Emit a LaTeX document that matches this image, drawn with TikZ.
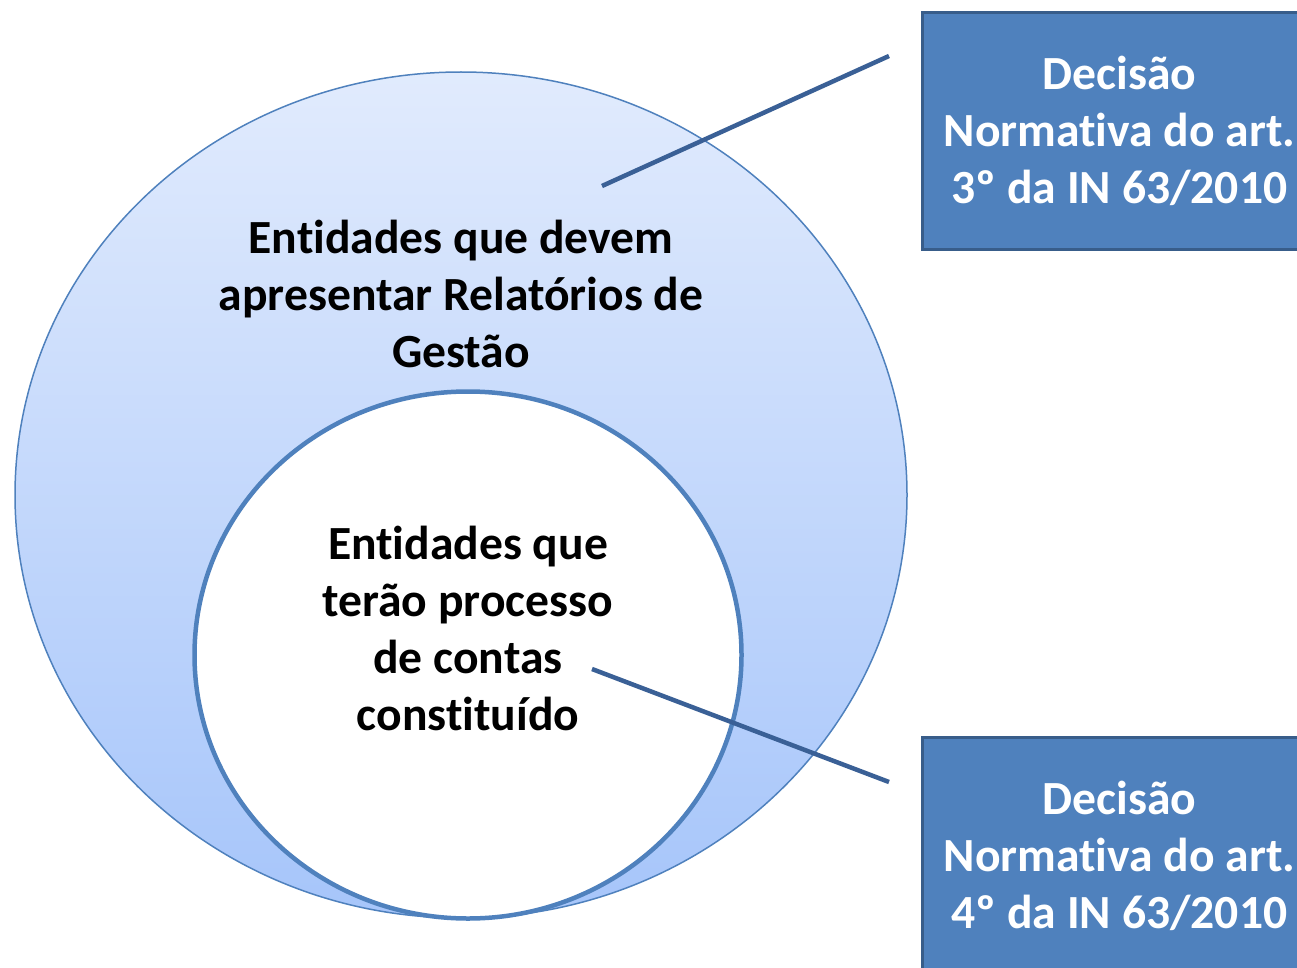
\documentclass[tikz,border=0pt]{standalone}
\usepackage{fontspec}
\setmainfont[Ligatures=NoCommon]{Carlito}
\usetikzlibrary{shapes.geometric}
\definecolor{ringfill}{HTML}{A6C5FA}
\definecolor{ringtop}{HTML}{E1EBFD}
\definecolor{ringline}{HTML}{4F81BD}
\definecolor{boxfill}{HTML}{4F81BD}
\definecolor{boxline}{HTML}{385D8A}
\definecolor{leader}{HTML}{3A6096}
\newcommand{\DNtext}[1]{Decisão\\Normativa do art.\\#1º da IN 63/2010}
\tikzset{
  bigtext/.style={font=\fontsize{47.6pt}{57pt}\selectfont\bfseries, align=center},
  dnbox/.style={bigtext, text=white, fill=boxfill, draw=boxline, line width=3pt,
    minimum width=394pt, minimum height=237pt, inner sep=0pt},
  leaderline/.style={draw=leader, line width=4.5pt}
}

\begin{document}
\begin{tikzpicture}[x=1pt,y=-1pt]
\useasboundingbox (0,0) rectangle (1297,968);
\node (outer) [ellipse, draw=ringline, line width=1.5pt, top color=ringtop, bottom color=ringfill,
  minimum width=892pt, minimum height=846pt, inner sep=0pt] at (461,495) {};
\node (inner) [ellipse, draw=ringline, line width=4.5pt, fill=white,
  minimum width=547pt, minimum height=527pt, inner sep=0pt] at (468,655) {};

\node (outer-text) [bigtext] at (461,294) {Entidades que devem\\apresentar Relatórios de\\Gestão};
\node (inner-text) [bigtext] at (468,628) {Entidades que\\terão processo\\de contas\\constituído};

\node (dn-3) [dnbox, anchor=north west] at (921,11) {\DNtext{3}};
\node (dn-4) [dnbox, anchor=north west] at (921,736) {\DNtext{4}};

\coordinate (outer-end) at (602,186);
\coordinate (dn-3-end) at (889,56);
\coordinate (inner-end) at (592,669);
\coordinate (dn-4-end) at (889,782);

\path[leaderline] (outer-end) -- (dn-3-end);
\path[leaderline] (inner-end) -- (dn-4-end);
\end{tikzpicture}
\end{document}
